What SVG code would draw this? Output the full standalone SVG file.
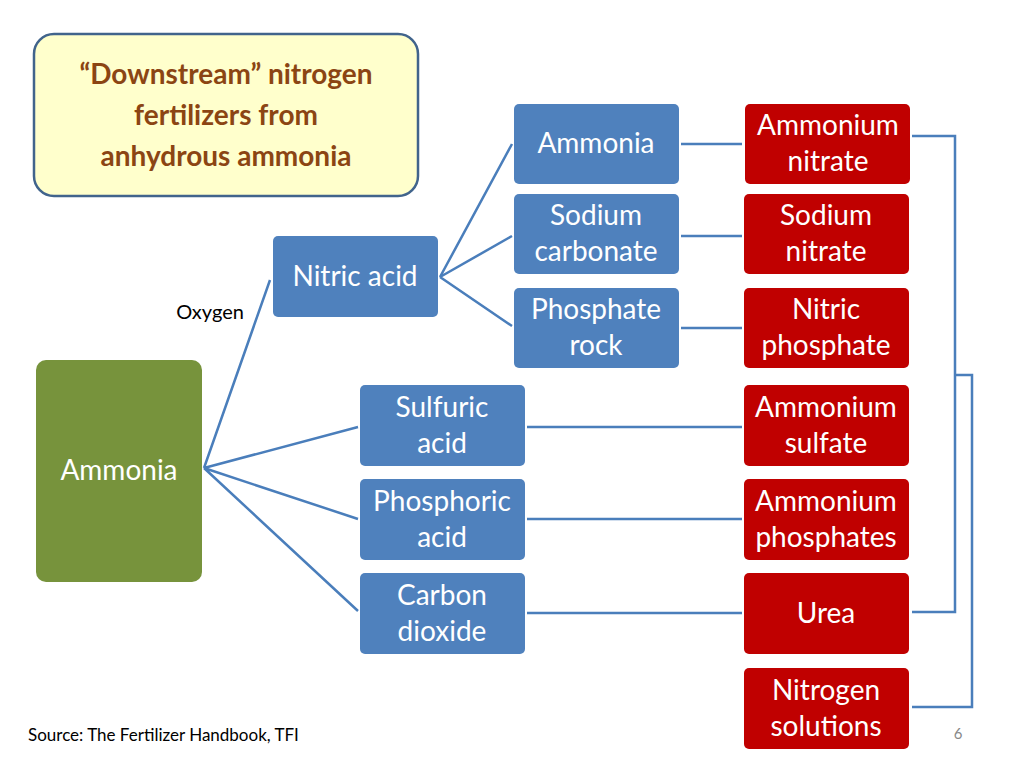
<svg xmlns="http://www.w3.org/2000/svg" width="1024" height="768" viewBox="0 0 1024 768">
<style>
text{font-family:Lato,"Open Sans","Liberation Sans",sans-serif;text-anchor:middle}
.b{fill:#4F81BD}.r{fill:#C00000}
.w{fill:#fff;font-size:28px}
.c{stroke:#4A7EBB;stroke-width:2.5;fill:none}
</style>
<rect width="1024" height="768" fill="#fff"/>
<g id="title"><rect x="34" y="34" width="384" height="162" rx="20" fill="#FFFFCC" stroke="#41648C" stroke-width="2.5"/>
<text x="226" y="84" font-size="28" font-weight="bold" fill="#8B4513">“Downstream” nitrogen</text>
<text x="226" y="125" font-size="28" font-weight="bold" fill="#8B4513">fertilizers from</text>
<text x="226" y="166" font-size="28" font-weight="bold" fill="#8B4513">anhydrous ammonia</text></g>
<g id="connectors" class="c">
<path d="M204 468L270 280M204 468L358 427M204 468L358 519M204 468L358 611"/>
<path d="M440 277L512 144M440 277L512 236M440 277L512 326"/>
<path d="M681 144H742M681 236H742M681 328H742M527 427H742M527 519H742M527 613H742"/>
<path d="M912 136H955V612H912M955 375H972V707H912"/>
</g>
<text x="210" y="319" font-size="20" fill="#000">Oxygen</text>
<g id="ammonia_g"><rect x="36" y="360" width="166" height="222" rx="10" fill="#77933C"/><text class="w" x="119" y="480">Ammonia</text></g>
<g id="nitric"><rect class="b" x="273" y="236" width="165" height="81" rx="5"/><text class="w" x="355" y="286">Nitric acid</text></g>
<g id="ammonia_b"><rect class="b" x="514" y="104" width="165" height="80" rx="5"/><text class="w" x="596" y="153">Ammonia</text></g>
<g id="sodcarb"><rect class="b" x="514" y="194" width="165" height="80" rx="5"/><text class="w" x="596" y="225">Sodium</text><text class="w" x="596" y="261">carbonate</text></g>
<g id="phosrock"><rect class="b" x="514" y="288" width="165" height="80" rx="5"/><text class="w" x="596" y="319">Phosphate</text><text class="w" x="596" y="355">rock</text></g>
<g id="sulfuric"><rect class="b" x="360" y="385" width="165" height="81" rx="5"/><text class="w" x="442" y="417">Sulfuric</text><text class="w" x="442" y="453">acid</text></g>
<g id="phosphoric"><rect class="b" x="360" y="479" width="165" height="81" rx="5"/><text class="w" x="442" y="511">Phosphoric</text><text class="w" x="442" y="547">acid</text></g>
<g id="co2"><rect class="b" x="360" y="573" width="165" height="81" rx="5"/><text class="w" x="442" y="605">Carbon</text><text class="w" x="442" y="641">dioxide</text></g>
<g id="amnitrate"><rect class="r" x="745" y="104" width="165" height="80" rx="5"/><text class="w" x="828" y="135">Ammonium</text><text class="w" x="828" y="171">nitrate</text></g>
<g id="sodnitrate"><rect class="r" x="744" y="194" width="165" height="80" rx="5"/><text class="w" x="826" y="225">Sodium</text><text class="w" x="826" y="261">nitrate</text></g>
<g id="nitphos"><rect class="r" x="744" y="288" width="165" height="80" rx="5"/><text class="w" x="826" y="319">Nitric</text><text class="w" x="826" y="355">phosphate</text></g>
<g id="amsulf"><rect class="r" x="744" y="385" width="165" height="81" rx="5"/><text class="w" x="826" y="417">Ammonium</text><text class="w" x="826" y="453">sulfate</text></g>
<g id="amphos"><rect class="r" x="744" y="479" width="165" height="81" rx="5"/><text class="w" x="826" y="511">Ammonium</text><text class="w" x="826" y="547">phosphates</text></g>
<g id="urea"><rect class="r" x="744" y="573" width="165" height="81" rx="5"/><text class="w" x="826" y="623">Urea</text></g>
<g id="nsol"><rect class="r" x="744" y="668" width="165" height="81" rx="5"/><text class="w" x="826" y="700">Nitrogen</text><text class="w" x="826" y="736">solutions</text></g>
<text x="28" y="741" font-size="17" fill="#000" style="text-anchor:start">Source: The Fertilizer Handbook, TFI</text>
<text x="958" y="739" font-size="15" fill="#888">6</text>
</svg>
